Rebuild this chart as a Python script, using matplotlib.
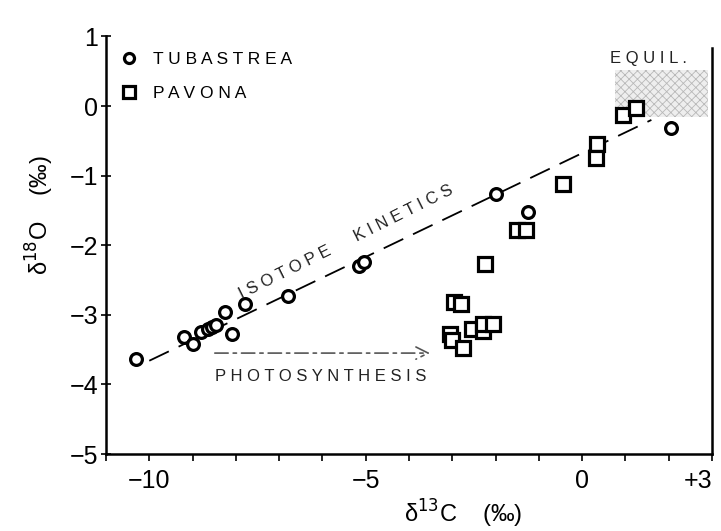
import numpy as np
import matplotlib.pyplot as plt
from matplotlib.patches import Rectangle

# Tubastrea (circles)
tub_c13 = [-10.3, -9.2, -9.0, -8.8, -8.65, -8.55, -8.45, -8.25, -8.1, -7.8, -6.8, -5.15, -5.05, -2.0, -1.25, 2.05]
tub_o18 = [-3.63, -3.32, -3.42, -3.25, -3.2, -3.18, -3.15, -2.96, -3.27, -2.85, -2.73, -2.3, -2.24, -1.26, -1.52, -0.32]

# Pavona (squares)
pav_c13 = [-3.05, -3.0, -2.75, -2.95, -2.8, -2.55, -2.3, -2.3, -2.05, -2.25, -1.5, -1.3, -0.45, 0.35, 0.33, 0.95, 1.25]
pav_o18 = [-3.28, -3.36, -3.47, -2.81, -2.84, -3.21, -3.23, -3.13, -3.13, -2.27, -1.78, -1.78, -1.12, -0.54, -0.74, -0.13, -0.03]

# kinetic trend line end points
kin_c13 = [-10.0, 1.6]
kin_o18 = [-3.66, -0.2]

xtick_pos = list(range(-11, 4))
xtick_lab = {-10: '\u221210', -5: '\u22125', 0: '0', 3: '+3'}
ytick_pos = [-5, -4, -3, -2, -1, 0, 1]
ytick_lab = ['\u22125', '\u22124', '\u22123', '\u22122', '\u22121', '0', '1']


def spaced(s):
    return ' '.join(s)


plt.rcParams['font.family'] = ['Liberation Sans', 'DejaVu Sans']
plt.rcParams['hatch.linewidth'] = 0.6

fig = plt.figure(figsize=(7.21, 5.31), dpi=100)
ax = fig.add_axes([0.147, 0.145, 0.8405, 0.7864])

# equilibrium field
ax.add_patch(Rectangle((0.76, -0.16), 2.15, 0.68, facecolor='#eeeeee', edgecolor='#b8b8b8',
                       hatch='xxxx', linewidth=0, zorder=1))

ax.plot(kin_c13, kin_o18, color='black', lw=1.3, dashes=(12, 6), zorder=2)

ax.plot(tub_c13, tub_o18, 'o', ms=8.5, mfc='white', mec='black', mew=2.3, label=spaced('TUBASTREA'), zorder=3)
ax.plot(pav_c13, pav_o18, 's', ms=9.5, mfc='white', mec='black', mew=2.3, label=spaced('PAVONA'), zorder=3)

# photosynthesis arrow
ax.annotate('', xy=(-3.45, -3.55), xytext=(-8.55, -3.55),
            arrowprops=dict(arrowstyle='->', color='#555555', lw=1.2, linestyle=(0, (8, 3, 2, 3)),
                            mutation_scale=22))
ax.text(-6.05, -3.88, spaced('PHOTOSYNTHESIS'), fontsize=12, ha='center', va='center', color='#222222')
ax.text(-5.45, -1.95, spaced('ISOTOPE') + '      ' + spaced('KINETICS'), fontsize=12,
        ha='center', va='center', rotation=26.5, color='#222222')
ax.text(0.65, 0.68, spaced('EQUIL.'), fontsize=12, ha='left', va='center', color='#222222')

ax.set_xlim(-11, 3)
ax.set_ylim(-5, 1)
ax.set_xticks(xtick_pos)
ax.set_xticklabels([xtick_lab.get(v, '') for v in xtick_pos], fontsize=18)
ax.get_xticklabels()[-1].set_horizontalalignment('right')
ax.get_xticklabels()[-1].set_x(3.35)
ax.set_yticks(ytick_pos)
ax.set_yticklabels(ytick_lab, fontsize=18)
ax.tick_params(axis='x', direction='out', length=5, width=1.2, pad=6)
ax.tick_params(axis='y', direction='inout', length=7, width=1.2, pad=2)

ax.spines['top'].set_visible(False)
ax.spines['right'].set_bounds(-5, 0.83)
for side in ['left', 'right', 'bottom']:
    ax.spines[side].set_linewidth(1.8)

ax.set_xlabel('\u03b4$^{13}$C    (\u2030)', fontsize=17, va='center')
ax.xaxis.set_label_coords(0.59, -0.143)
ax.set_ylabel('\u03b4$^{18}$O    (\u2030)', fontsize=17, va='center')
ax.yaxis.set_label_coords(-0.109, 0.572)

ax.legend(loc='upper left', bbox_to_anchor=(0.0, 0.997), frameon=False, fontsize=12.5,
          handletextpad=0.9, labelspacing=1.1, borderaxespad=0.4, handlelength=1.0, markerscale=0.85)

fig.savefig('out.png', dpi=100)
